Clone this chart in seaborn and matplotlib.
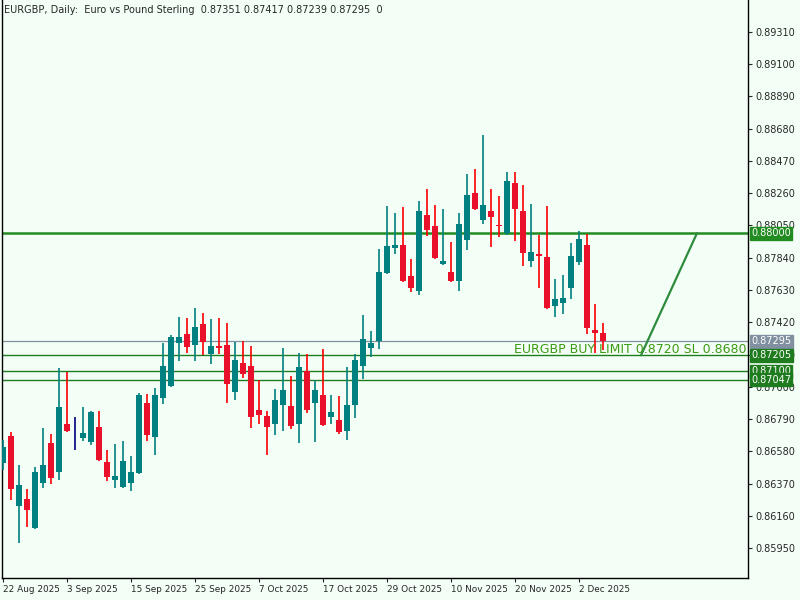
import matplotlib
matplotlib.use("Agg")
import matplotlib.pyplot as plt
import seaborn as sns
import numpy as np
import pandas as pd

opens = [0.86504,0.86680,0.86224,0.86270,0.86081,0.86374,0.86634,0.86445,0.86758,0.86699,
         0.86667,0.86641,0.86738,0.86510,0.86393,0.86348,0.86374,0.86439,0.86894,0.86673,
         0.86927,0.87005,0.87285,0.87344,0.87272,0.87409,0.87213,0.87266,0.87272,0.86966,
         0.87155,0.87135,0.86849,0.86810,0.86758,0.86881,0.86875,0.86758,0.87103,0.86894,
         0.86947,0.86803,0.86784,0.86712,0.86881,0.87135,0.87253,0.87298,0.87741,0.87904,
         0.87923,0.87721,0.87624,0.88118,0.88047,0.87799,0.87747,0.87689,0.87956,0.88262,
         0.88086,0.88144,0.88053,0.88001,0.88327,0.88144,0.87819,0.87864,0.87845,0.87526,
         0.87545,0.87643,0.87812,0.87923,0.87370,0.87351]
highs = [0.86654,0.86706,0.86491,0.86335,0.86478,0.86732,0.86693,0.87122,0.87096,0.86803,
         0.86868,0.86842,0.86842,0.86588,0.86628,0.86647,0.86549,0.86960,0.86953,0.86992,
         0.87285,0.87337,0.87454,0.87448,0.87513,0.87480,0.87441,0.87448,0.87415,0.87292,
         0.87298,0.87266,0.87044,0.86842,0.86986,0.87253,0.87070,0.87220,0.87213,0.87044,
         0.87246,0.86947,0.86940,0.87129,0.87213,0.87467,0.87363,0.87897,0.88177,0.88131,
         0.88170,0.87832,0.88209,0.88288,0.88183,0.88157,0.87943,0.88131,0.88385,0.88418,
         0.88639,0.88288,0.88242,0.88398,0.88398,0.88314,0.88190,0.87988,0.88177,0.87702,
         0.87728,0.87936,0.88014,0.87995,0.87539,0.87417]
lows = [0.86458,0.86263,0.85983,0.86087,0.86074,0.86341,0.86367,0.86393,0.86706,0.86588,
        0.86647,0.86621,0.86517,0.86387,0.86341,0.86341,0.86322,0.86432,0.86647,0.86556,
        0.86888,0.86999,0.87168,0.87220,0.87168,0.87207,0.87148,0.87213,0.86894,0.86914,
        0.87057,0.86732,0.86758,0.86556,0.86686,0.86712,0.86725,0.86634,0.86829,0.86641,
        0.86745,0.86758,0.86693,0.86654,0.86797,0.87051,0.87194,0.87246,0.87734,0.87864,
        0.87682,0.87617,0.87598,0.87982,0.87832,0.87793,0.87682,0.87624,0.87890,0.88151,
        0.88060,0.87910,0.87975,0.87988,0.87949,0.87786,0.87780,0.87643,0.87506,0.87454,
        0.87474,0.87572,0.87793,0.87344,0.87220,0.87239]
closes = [0.86608,0.86335,0.86361,0.86198,0.86445,0.86491,0.86406,0.86868,0.86712,0.86699,
          0.86699,0.86836,0.86523,0.86413,0.86419,0.86517,0.86445,0.86947,0.86686,0.86947,
          0.87135,0.87324,0.87324,0.87259,0.87389,0.87292,0.87266,0.87253,0.87018,0.87174,
          0.87083,0.86803,0.86816,0.86738,0.86914,0.86979,0.86745,0.87129,0.86849,0.86979,
          0.86751,0.86836,0.86706,0.86881,0.87174,0.87311,0.87285,0.87747,0.87917,0.87923,
          0.87689,0.87643,0.88144,0.88021,0.87838,0.87819,0.87689,0.88060,0.88249,0.88157,
          0.88183,0.88105,0.88047,0.88340,0.88157,0.87871,0.87877,0.87851,0.87513,0.87572,
          0.87578,0.87851,0.87962,0.87383,0.87350,0.87295]
date_labels = ["22 Aug 2025","3 Sep 2025","15 Sep 2025","25 Sep 2025","7 Oct 2025",
               "17 Oct 2025","29 Oct 2025","10 Nov 2025","20 Nov 2025","2 Dec 2025"]
price_ticks = [0.85950,0.86160,0.86370,0.86580,0.86790,0.87000,0.87210,0.87420,0.87630,
               0.87840,0.88050,0.88260,0.88470,0.88680,0.88890,0.89100,0.89310]
level_tp = 0.88000
level_bid = 0.87295
level_entry = 0.87205
level_a = 0.87100
level_b = 0.87047
trend_x = [79.75, 86.75]
trend_y = [0.87205, 0.88000]

df = pd.DataFrame(dict(o=opens, h=highs, l=lows, c=closes))
df["i"] = np.arange(len(df))

sns.set_style("white")
plt.rcParams['font.family'] = ['DejaVu Sans']
bg = "#F3FFF6"
fig = plt.figure(figsize=(8, 6), dpi=100, facecolor=bg)
ax = fig.add_axes([0.0025, 22/600, 746/800, 578/600])
ax.set_facecolor(bg)

teal = "#008080"; red = "#E8102A"; navy = "#000080"
for _, r in df.iterrows():
    if r.c > r.o:
        bc, wc = teal, teal
    elif r.c < r.o:
        bc, wc = red, "#FF0000"
    else:
        bc, wc = navy, navy
    ax.vlines(r.i, r.l, r.h, color=wc, lw=1.2, zorder=3)
    bot = min(r.o, r.c); ht = max(abs(r.c - r.o), 0.000015)
    ax.bar(r.i, ht, bottom=bot, width=0.65, color=bc, zorder=4, linewidth=0)

ax.axhline(level_tp, color="#228B22", lw=1.8, zorder=2)
ax.axhline(level_bid, color="#8090A0", lw=0.9, zorder=2)
for lv in (level_entry, level_a, level_b):
    ax.axhline(lv, color="#1E7B1E", lw=1.0, zorder=2)
sns.lineplot(x=trend_x, y=trend_y, ax=ax, color="#2E8B3E", lw=1.6, zorder=5)
ax.text(63.9, 0.87240, "EURGBP BUY LIMIT 0.8720 SL 0.8680 TP 0.8800", color="#3C9A10",
        fontsize=9, va="center", ha="left", clip_on=True, zorder=6)

ax.set_xlim(-0.125, 93.125)
ax.set_ylim(0.85755, 0.89518)
ax.yaxis.tick_right()
ax.set_yticks(price_ticks)
ax.set_yticklabels([f"{v:.5f}" for v in price_ticks])
ax.set_xticks(list(range(0, 80, 8)))
ax.set_xticklabels(date_labels, ha="left")
ax.tick_params(axis="y", labelsize=7, length=3, pad=2, direction="out", right=True)
ax.tick_params(axis="x", labelsize=6.4, length=3, pad=2, direction="out", bottom=True)
ax.spines["top"].set_visible(False)
for s in ("left", "right", "bottom"):
    ax.spines[s].set_color("black"); ax.spines[s].set_linewidth(1.0)

for lv, col in ((level_tp, "#228B22"), (level_bid, "#8090A0"), (level_entry, "#1E7B1E"),
                (level_a, "#1E7B1E"), (level_b, "#1E7B1E")):
    ax.annotate(f"{lv:.5f}", xy=(1.004, lv), xycoords=("axes fraction", "data"),
                fontsize=7, color="white", va="center", ha="left", zorder=10,
                bbox=dict(boxstyle="square,pad=0.15", fc=col, ec=col))

fig.text(0.005, 0.983, "EURGBP, Daily:  Euro vs Pound Sterling  0.87351 0.87417 0.87239 0.87295  0",
         fontsize=7, va="center", ha="left")
fig.savefig("out.png", dpi=100, facecolor=bg)
